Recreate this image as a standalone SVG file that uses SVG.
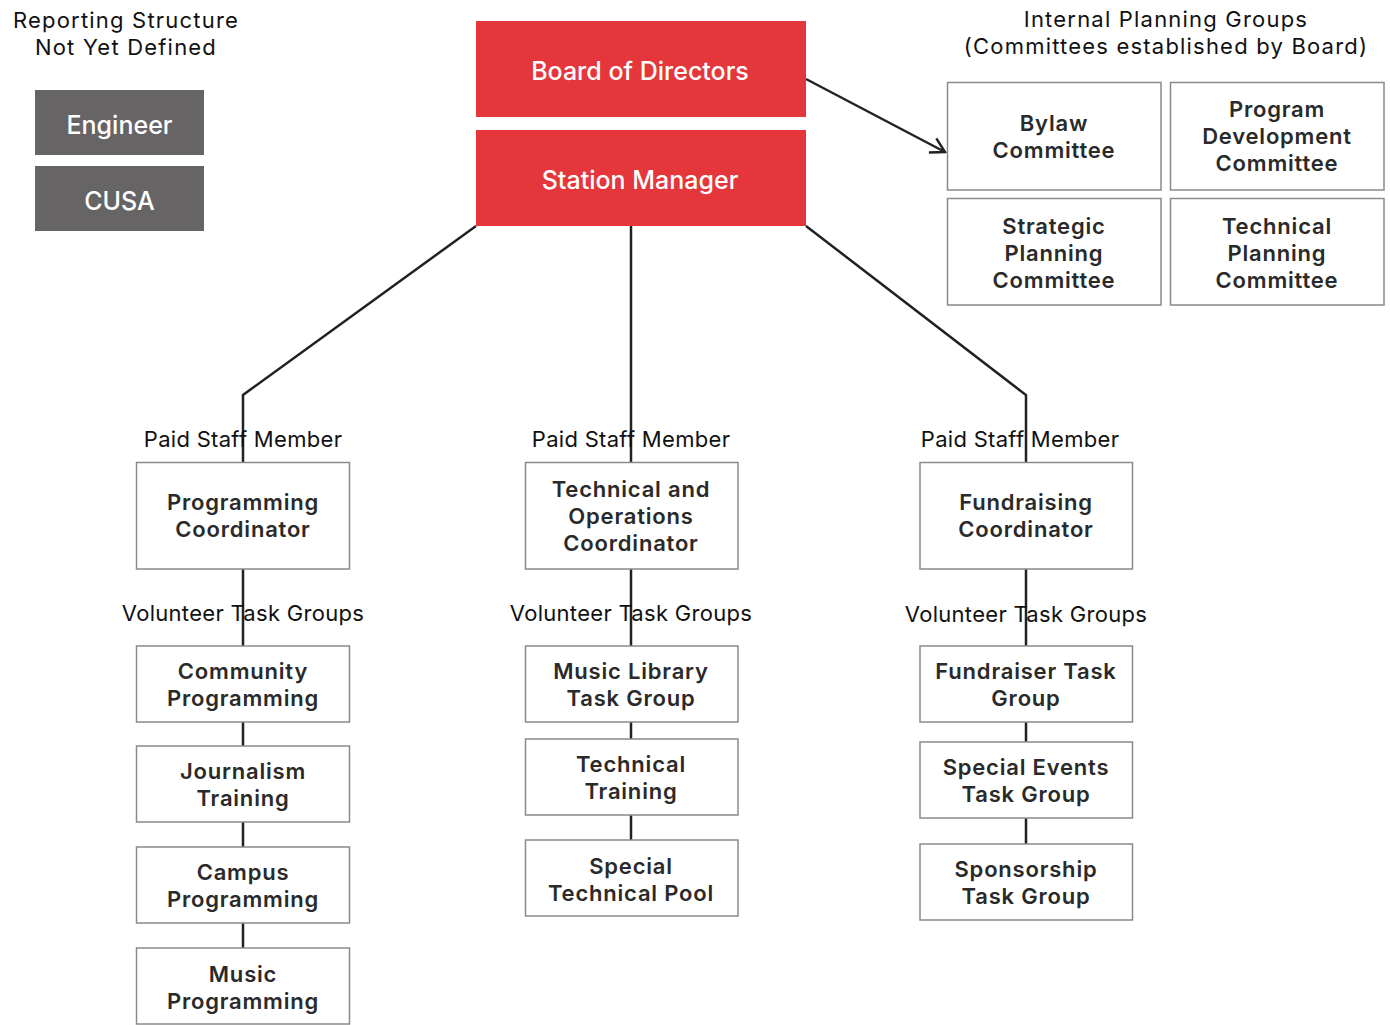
<svg xmlns="http://www.w3.org/2000/svg" width="1390" height="1025" viewBox="0 0 1390 1025">
<defs>
<style>
.red{fill:#e5363b}
.gray{fill:#666465}
.box{fill:#fff;stroke:#8a8a8a;stroke-width:1.5}
.wt{font-family:Inter,"Noto Sans",sans-serif;font-size:25px;font-weight:500;fill:#fff;text-anchor:middle}
.bt{font-family:Inter,"Noto Sans",sans-serif;font-size:22px;font-weight:600;letter-spacing:0.8px;fill:#2a2a2a;text-anchor:middle}
.lb{font-family:Inter,"Noto Sans",sans-serif;font-size:22px;font-weight:400;letter-spacing:0.3px;fill:#111;text-anchor:middle}
.tl{font-family:Inter,"Noto Sans",sans-serif;font-size:22px;font-weight:400;letter-spacing:1.2px;fill:#111;text-anchor:middle}
.ln{fill:none;stroke:#222;stroke-width:2.5}
</style>
<marker id="arr" viewBox="0 0 20 20" refX="18" refY="10" markerWidth="20" markerHeight="20" markerUnits="userSpaceOnUse" orient="auto">
<polyline points="4,2 18,10 4,18" fill="none" stroke="#222" stroke-width="2.5"/>
</marker>
</defs>
<rect width="1390" height="1025" fill="#fff"/>

<g id="connectors">
<line class="ln" x1="806" y1="79" x2="945" y2="152" marker-end="url(#arr)"/>
<polyline class="ln" points="476,226 243,395 243,462"/>
<line class="ln" x1="631" y1="226" x2="631" y2="462"/>
<polyline class="ln" points="806,226 1026,395 1026,462"/>
<line class="ln" x1="243" y1="569" x2="243" y2="948"/>
<line class="ln" x1="631" y1="569" x2="631" y2="840"/>
<line class="ln" x1="1026" y1="569" x2="1026" y2="844"/>
</g>

<g id="label-reporting">
<text class="tl" x="126" y="28">Reporting Structure<tspan x="126" dy="27">Not Yet Defined</tspan></text>
</g>
<g id="label-internal">
<text class="tl" x="1166" y="27">Internal Planning Groups<tspan x="1166" dy="27">(Committees established by Board)</tspan></text>
</g>

<g id="engineer"><rect class="gray" x="35" y="90" width="169" height="65"/><text class="wt" x="119.5" y="134">Engineer</text></g>
<g id="cusa"><rect class="gray" x="35" y="166" width="169" height="65"/><text class="wt" x="119.5" y="210">CUSA</text></g>

<g id="board"><rect class="red" x="476" y="21" width="330" height="96"/><text class="wt" x="640" y="80">Board of Directors</text></g>
<g id="station-manager"><rect class="red" x="476" y="130" width="330" height="96"/><text class="wt" x="640" y="189">Station Manager</text></g>

<g id="bylaw"><rect class="box" x="947.5" y="82.5" width="213.5" height="107.5"/><text class="bt" x="1054" y="131">Bylaw<tspan x="1054" dy="27">Committee</tspan></text></g>
<g id="program-dev"><rect class="box" x="1170.5" y="82.5" width="213.5" height="107.5"/><text class="bt" x="1277" y="117">Program<tspan x="1277" dy="27">Development</tspan><tspan x="1277" dy="27">Committee</tspan></text></g>
<g id="strategic"><rect class="box" x="947.5" y="198.5" width="213.5" height="106.5"/><text class="bt" x="1054" y="234">Strategic<tspan x="1054" dy="27">Planning</tspan><tspan x="1054" dy="27">Committee</tspan></text></g>
<g id="technical-planning"><rect class="box" x="1170.5" y="198.5" width="213.5" height="106.5"/><text class="bt" x="1277" y="234">Technical<tspan x="1277" dy="27">Planning</tspan><tspan x="1277" dy="27">Committee</tspan></text></g>

<g id="labels-paid">
<text class="lb" x="243" y="447">Paid Staff Member</text>
<text class="lb" x="631" y="447">Paid Staff Member</text>
<text class="lb" x="1020" y="447">Paid Staff Member</text>
</g>
<g id="labels-volunteer">
<text class="lb" x="243" y="621">Volunteer Task Groups</text>
<text class="lb" x="631" y="621">Volunteer Task Groups</text>
<text class="lb" x="1026" y="622">Volunteer Task Groups</text>
</g>

<g id="programming-coordinator"><rect class="box" x="136.5" y="462.5" width="213" height="106.5"/><text class="bt" x="243" y="510">Programming<tspan x="243" dy="27">Coordinator</tspan></text></g>
<g id="tech-ops-coordinator"><rect class="box" x="525.5" y="462.5" width="212.5" height="106.5"/><text class="bt" x="631" y="497">Technical and<tspan x="631" dy="27">Operations</tspan><tspan x="631" dy="27">Coordinator</tspan></text></g>
<g id="fundraising-coordinator"><rect class="box" x="920" y="462.5" width="212.5" height="106.5"/><text class="bt" x="1026" y="510">Fundraising<tspan x="1026" dy="27">Coordinator</tspan></text></g>

<g id="community-programming"><rect class="box" x="136.5" y="646" width="213" height="76"/><text class="bt" x="243" y="679">Community<tspan x="243" dy="27">Programming</tspan></text></g>
<g id="journalism-training"><rect class="box" x="136.5" y="746" width="213" height="76"/><text class="bt" x="243" y="779">Journalism<tspan x="243" dy="27">Training</tspan></text></g>
<g id="campus-programming"><rect class="box" x="136.5" y="847" width="213" height="76"/><text class="bt" x="243" y="880">Campus<tspan x="243" dy="27">Programming</tspan></text></g>
<g id="music-programming"><rect class="box" x="136.5" y="948" width="213" height="76"/><text class="bt" x="243" y="982">Music<tspan x="243" dy="27">Programming</tspan></text></g>

<g id="music-library"><rect class="box" x="525.5" y="646" width="212.5" height="76"/><text class="bt" x="631" y="679">Music Library<tspan x="631" dy="27">Task Group</tspan></text></g>
<g id="technical-training"><rect class="box" x="525.5" y="739" width="212.5" height="76"/><text class="bt" x="631" y="772">Technical<tspan x="631" dy="27">Training</tspan></text></g>
<g id="special-technical-pool"><rect class="box" x="525.5" y="840" width="212.5" height="76"/><text class="bt" x="631" y="874">Special<tspan x="631" dy="27">Technical Pool</tspan></text></g>

<g id="fundraiser-task-group"><rect class="box" x="920" y="646" width="212.5" height="76"/><text class="bt" x="1026" y="679">Fundraiser Task<tspan x="1026" dy="27">Group</tspan></text></g>
<g id="special-events"><rect class="box" x="920" y="742" width="212.5" height="76"/><text class="bt" x="1026" y="775">Special Events<tspan x="1026" dy="27">Task Group</tspan></text></g>
<g id="sponsorship"><rect class="box" x="920" y="844" width="212.5" height="76"/><text class="bt" x="1026" y="877">Sponsorship<tspan x="1026" dy="27">Task Group</tspan></text></g>
</svg>
